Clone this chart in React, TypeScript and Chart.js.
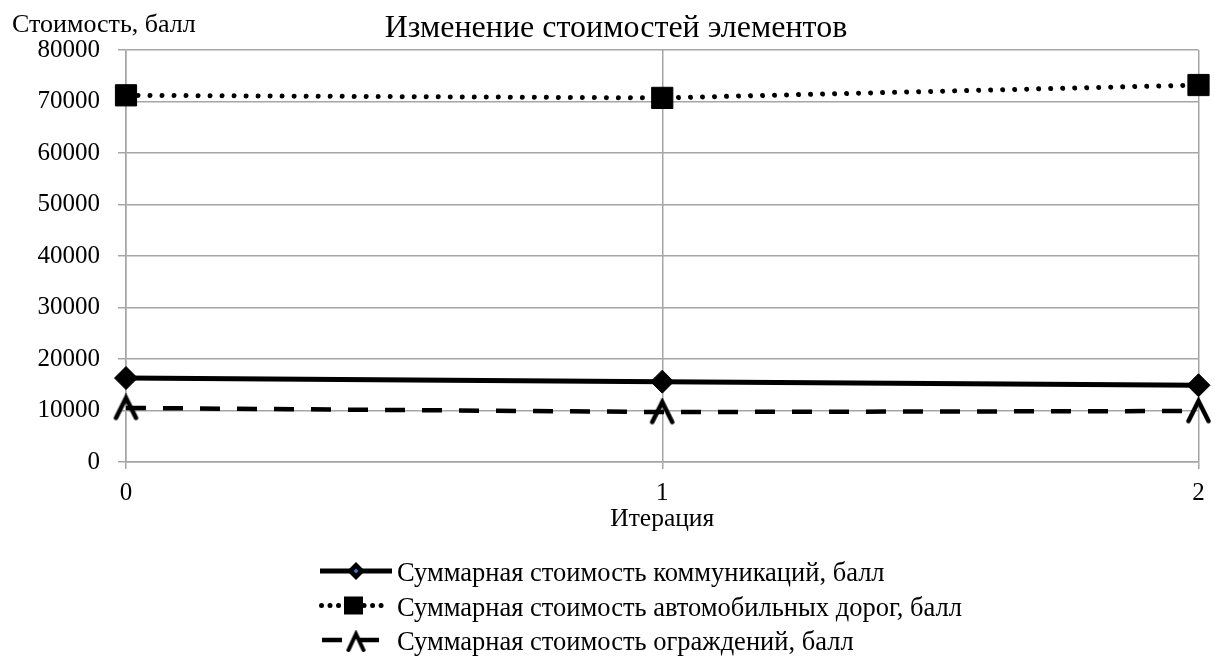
import React, { useEffect, useRef } from 'react';
import { Chart, registerables } from 'chart.js';

Chart.register(...registerables);

const chartTitle = 'Изменение стоимостей элементов';
const yAxisTitle = 'Стоимость, балл';
const xAxisTitle = 'Итерация';
const iterations = ['0', '1', '2'];
const seriesLabels = [
  'Суммарная стоимость коммуникаций, балл',
  'Суммарная стоимость автомобильных дорог, балл',
  'Суммарная стоимость ограждений, балл',
];
const communicationsCost = [16300, 15600, 14900];
const roadsCost = [71200, 70700, 73200];
const fencesCost = [10500, 9700, 9900];
const yMin = 0;
const yMax = 80000;
const yStep = 10000;

const FONT = '"Liberation Serif", "Times New Roman", serif';
const GRID = '#a6a6a6';

function makeCaret(w: number, h: number, lw: number): HTMLCanvasElement {
  const c = document.createElement('canvas');
  c.width = w + lw * 2;
  c.height = h + lw * 2;
  const g = c.getContext('2d')!;
  g.strokeStyle = '#000';
  g.lineWidth = lw;
  g.lineCap = 'round';
  g.lineJoin = 'miter';
  g.beginPath();
  g.moveTo(lw, lw + h);
  g.lineTo(lw + w / 2, lw);
  g.lineTo(lw + w, lw + h);
  g.stroke();
  return c;
}

function drawDiamond(ctx: CanvasRenderingContext2D, x: number, y: number, r: number) {
  ctx.beginPath();
  ctx.moveTo(x, y - r);
  ctx.lineTo(x + r, y);
  ctx.lineTo(x, y + r);
  ctx.lineTo(x - r, y);
  ctx.closePath();
  ctx.fill();
}

export default function App() {
  const ref = useRef<HTMLCanvasElement | null>(null);

  useEffect(() => {
    document.body.style.margin = '0';
    document.body.style.overflow = 'hidden';
    const canvas = ref.current;
    if (!canvas) return;

    const caret = makeCaret(20, 20, 4.5);
    const legendCaret = makeCaret(15, 16, 4);

    const decor = {
      id: 'decor',
      afterDraw(chart: any) {
        const ctx: CanvasRenderingContext2D = chart.ctx;
        ctx.save();
        ctx.fillStyle = '#000';
        ctx.textBaseline = 'alphabetic';
        ctx.font = `32px ${FONT}`;
        ctx.textAlign = 'center';
        ctx.fillText(chartTitle, 616, 37);
        ctx.font = `26px ${FONT}`;
        ctx.textAlign = 'left';
        ctx.fillText(yAxisTitle, 12, 32);

        // legend
        const rows = [571, 605.5, 640];
        chart.data.datasets.forEach((ds: any, i: number) => {
          const y = rows[i];
          ctx.save();
          ctx.strokeStyle = '#000';
          ctx.fillStyle = '#000';
          ctx.lineWidth = ds.borderWidth;
          ctx.lineCap = ds.borderCapStyle || 'butt';
          if (i === 0) {
            ctx.setLineDash([]);
            ctx.beginPath();
            ctx.moveTo(320, y);
            ctx.lineTo(392, y);
            ctx.stroke();
            drawDiamond(ctx, 356, y, 9);
            ctx.fillStyle = '#4472c4';
            drawDiamond(ctx, 356, y, 2.5);
          } else if (i === 1) {
            ctx.setLineDash([0.01, 8.5]);
            ctx.beginPath();
            ctx.moveTo(321.5, y);
            ctx.lineTo(384, y);
            ctx.stroke();
            ctx.setLineDash([]);
            ctx.fillRect(344, y - 9, 19, 18);
          } else {
            ctx.setLineDash([20, 17]);
            ctx.beginPath();
            ctx.moveTo(322, y);
            ctx.lineTo(381, y);
            ctx.stroke();
            ctx.setLineDash([]);
            ctx.drawImage(legendCaret, 356 - legendCaret.width / 2, y - legendCaret.height / 2 + 2);
          }
          ctx.restore();
          ctx.font = `26.5px ${FONT}`;
          ctx.fillStyle = '#000';
          ctx.textAlign = 'left';
          ctx.fillText(ds.label, 397, y + 10);
        });
        ctx.restore();
      },
    };

    const chart = new Chart(canvas, {
      type: 'line',
      data: {
        labels: iterations,
        datasets: [
          {
            label: seriesLabels[0],
            data: communicationsCost,
            borderColor: '#000',
            backgroundColor: '#000',
            borderWidth: 5,
            pointStyle: 'rectRot',
            pointRadius: 11.5,
            pointBorderWidth: 1,
            pointBackgroundColor: '#000',
            pointBorderColor: '#000',
            clip: false,
            tension: 0,
          },
          {
            label: seriesLabels[1],
            data: roadsCost,
            borderColor: '#000',
            backgroundColor: '#000',
            borderWidth: 5,
            borderDash: [0.01, 12],
            borderCapStyle: 'round',
            pointStyle: 'rect',
            pointRadius: 15,
            pointBorderWidth: 1,
            pointBackgroundColor: '#000',
            pointBorderColor: '#000',
            clip: false,
            tension: 0,
          },
          {
            label: seriesLabels[2],
            data: fencesCost,
            borderColor: '#000',
            backgroundColor: '#000',
            borderWidth: 4.5,
            borderDash: [20, 17],
            pointStyle: caret,
            pointRadius: 12,
            clip: false,
            tension: 0,
          },
        ],
      } as any,
      options: {
        animation: false,
        responsive: false,
        maintainAspectRatio: false,
        layout: { padding: { top: 50, right: 10, left: 0, bottom: 0 } },
        plugins: {
          legend: { display: false },
          title: { display: false },
          tooltip: { enabled: false },
        },
        scales: {
          x: {
            type: 'category',
            offset: false,
            grid: { color: GRID, lineWidth: 1.5, tickLength: 7, offset: false, drawTicks: true },
            border: { color: GRID, width: 1.5 },
            ticks: { color: '#000', font: { family: FONT, size: 25 }, padding: 9, maxRotation: 0 },
            title: {
              display: true,
              text: xAxisTitle,
              color: '#000',
              font: { family: FONT, size: 25.5 },
              padding: { top: 0, bottom: 122 },
            },
            afterFit(scale: any) {
              scale.height = 195;
            },
          },
          y: {
            min: yMin,
            max: yMax,
            grid: { color: GRID, lineWidth: 1.5, tickLength: 8 },
            border: { color: GRID, width: 1.5 },
            ticks: {
              stepSize: yStep,
              color: '#000',
              font: { family: FONT, size: 25 },
              padding: 18,
              callback: (v: any) => String(v),
            },
            afterFit(scale: any) {
              scale.width = 126;
            },
          },
        },
      } as any,
      plugins: [decor],
    });

    return () => chart.destroy();
  }, []);

  return (
    <div style={{ width: 1215, height: 657, position: 'relative' }}>
      <canvas ref={ref} width={1215} height={657} style={{ display: 'block' }} />
    </div>
  );
}
